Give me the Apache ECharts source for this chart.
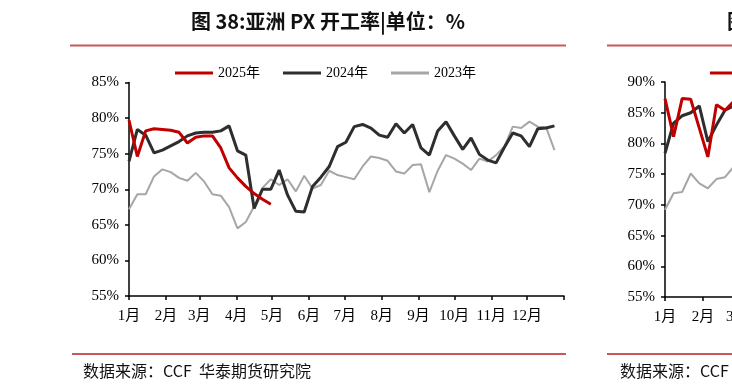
<!DOCTYPE html>
<html><head><meta charset="utf-8">
<script src="https://cdn.jsdelivr.net/npm/echarts@6/dist/echarts.min.js"></script>
<style>html,body{margin:0;padding:0;background:#fff;overflow:hidden}#c{width:1200px;height:389px}</style>
</head><body><div id="c"></div>
<script>
// ---- data ----
const monthStarts = [0, 31, 59, 90, 120, 151, 181, 212, 243, 273, 304, 334, 365];
const monthLabels = ['1月','2月','3月','4月','5月','6月','7月','8月','9月','10月','11月','12月'];
const seriesNames = ['2025年', '2024年', '2023年'];
// weekly observations (day-of-year of each week)
const weekDays = [0,7,14,21,28,35,42,49,56,63,70,77,84,91,98,105,112,119,126,133,140,147,154,161,168,175,182,189,196,203,210,217,224,231,238,245,252,259,266,273,280,287,294,301,308,315,322,329,336,343,350,357];
const asia2025 = [79.7,74.6,78.2,78.5,78.4,78.3,78.0,76.5,77.3,77.5,77.5,75.8,73.0,71.6,70.4,69.4,68.6,67.9];
const asia2024 = [73.9,78.4,77.6,75.1,75.5,76.1,76.7,77.5,77.9,78.0,78.0,78.2,78.9,75.4,74.8,67.3,70.0,70.0,72.7,69.2,66.9,66.8,70.4,71.7,73.2,76.0,76.6,78.8,79.1,78.6,77.6,77.3,79.2,77.9,79.1,75.8,74.8,78.2,79.5,77.5,75.6,77.2,74.9,74.1,73.7,75.9,77.9,77.5,76.0,78.5,78.6,78.9];
const asia2023 = [67.2,69.3,69.3,71.8,72.8,72.4,71.6,71.2,72.3,71.1,69.3,69.1,67.5,64.5,65.4,67.6,70.2,71.4,70.6,71.4,69.7,71.9,70.1,70.6,72.6,72.0,71.7,71.4,73.2,74.6,74.4,74.0,72.5,72.2,73.4,73.5,69.6,72.6,74.8,74.3,73.6,72.7,74.3,73.9,74.8,76.0,78.8,78.6,79.5,78.8,78.7,75.5];
// neighbouring chart (only its left part is visible)
const next2025 = [87.3,81.1,87.3,87.2,82.5,77.8,86.3,85.4,86.8];
const next2024 = [78.4,83.3,84.5,85.0,86.1,80.3,83.0,85.4,86.1];
const next2023 = [69.2,71.9,72.1,75.1,73.5,72.7,74.2,74.5,76.2];
const yTicksMain = {min: 55, max: 85, interval: 5};
const yTicksNext = {min: 55, max: 90, interval: 5};
const titleText = '图 38:亚洲 PX 开工率|单位：%';
const sourceText = '数据来源：CCF  华泰期货研究院';

// ---- chart ----
const serif = "'Liberation Serif','Times New Roman','Noto Sans CJK SC',serif";
const cjk = "'Noto Sans CJK SC','Noto Sans',sans-serif";
const colors = ['#c00000', '#2e2e2e', '#a6a6a6'];
const widths = [3, 3, 2];
const pair = (arr) => arr.map((v, i) => [weekDays[i], v]);

function xAxisFor(gridIndex) {
  return {
    type: 'value', gridIndex, min: 0, max: 365,
    axisLine: {show: true, lineStyle: {color: '#000', width: 1.5}},
    axisTick: {show: true, length: 4, customValues: monthStarts, lineStyle: {color: '#000', width: 1.5}},
    axisLabel: {
      customValues: monthStarts.slice(0, 12), margin: 13,
      fontFamily: serif, fontSize: 15, color: '#000',
      formatter: (v) => monthLabels[monthStarts.indexOf(v)] || ''
    },
    splitLine: {show: false}
  };
}
function yAxisFor(gridIndex, t) {
  return {
    type: 'value', gridIndex, min: t.min, max: t.max, interval: t.interval,
    axisLine: {show: true, lineStyle: {color: '#000', width: 1.5}},
    axisTick: {show: true, length: 4, lineStyle: {color: '#000', width: 1.5}},
    axisLabel: {formatter: '{value}%', fontFamily: serif, fontSize: 15, color: '#000', margin: 10},
    splitLine: {show: false}
  };
}
const allData = [[asia2025, asia2024, asia2023], [next2025, next2024, next2023]];
const series = [];
[0, 1].forEach(g => {
  [2, 1, 0].forEach(k => {
    series.push({
      name: seriesNames[k], type: 'line', xAxisIndex: g, yAxisIndex: g,
      data: pair(allData[g][k]), symbol: 'none', smooth: false,
      lineStyle: {color: colors[k], width: widths[k]}, itemStyle: {color: colors[k]},
      z: 3 + (2 - k), silent: true, animation: false
    });
  });
});

const legendBase = {
  orient: 'horizontal', top: 66, padding: 0, itemWidth: 38, itemHeight: 3, itemGap: 23,
  textStyle: {fontFamily: serif, fontSize: 14, color: '#000'},
  selectedMode: false,
  data: seriesNames.map((n, k) => ({name: n, icon: 'rect', itemStyle: {color: colors[k]}}))
};
const chart = echarts.init(document.getElementById('c'), null, {renderer: 'canvas'});
chart.setOption({
  animation: false,
  backgroundColor: '#fff',
  grid: [
    {left: 129, top: 82.5, width: 435, height: 213.5, containLabel: false},
    {left: 665, top: 82, width: 447, height: 215, containLabel: false}
  ],
  legend: [
    Object.assign({}, legendBase, {left: 175}),
    Object.assign({}, legendBase, {left: 710})
  ],
  xAxis: [xAxisFor(0), xAxisFor(1)],
  yAxis: [yAxisFor(0, yTicksMain), yAxisFor(1, yTicksNext)],
  series,
  graphic: [
    {type: 'text', style: {text: titleText, x: 328, y: 21, align: 'center', verticalAlign: 'middle', font: "bold 20px " + cjk, fill: '#111'}},
    {type: 'text', style: {text: '图', x: 727, y: 21, verticalAlign: 'middle', font: "bold 20px " + cjk, fill: '#111'}},
    {type: 'line', shape: {x1: 70, y1: 45.5, x2: 566, y2: 45.5}, style: {stroke: '#c55a5a', lineWidth: 2}},
    {type: 'line', shape: {x1: 607, y1: 45.5, x2: 1150, y2: 45.5}, style: {stroke: '#c55a5a', lineWidth: 2}},
    {type: 'line', shape: {x1: 72, y1: 354, x2: 566, y2: 354}, style: {stroke: '#c55a5a', lineWidth: 2}},
    {type: 'line', shape: {x1: 607, y1: 354, x2: 1150, y2: 354}, style: {stroke: '#c55a5a', lineWidth: 2}},
    {type: 'text', style: {text: sourceText, x: 83, y: 371, verticalAlign: 'middle', font: "16px " + cjk, fill: '#111'}},
    {type: 'text', style: {text: sourceText, x: 620, y: 371, verticalAlign: 'middle', font: "16px " + cjk, fill: '#111'}}
  ]
});
</script>
</body></html>
